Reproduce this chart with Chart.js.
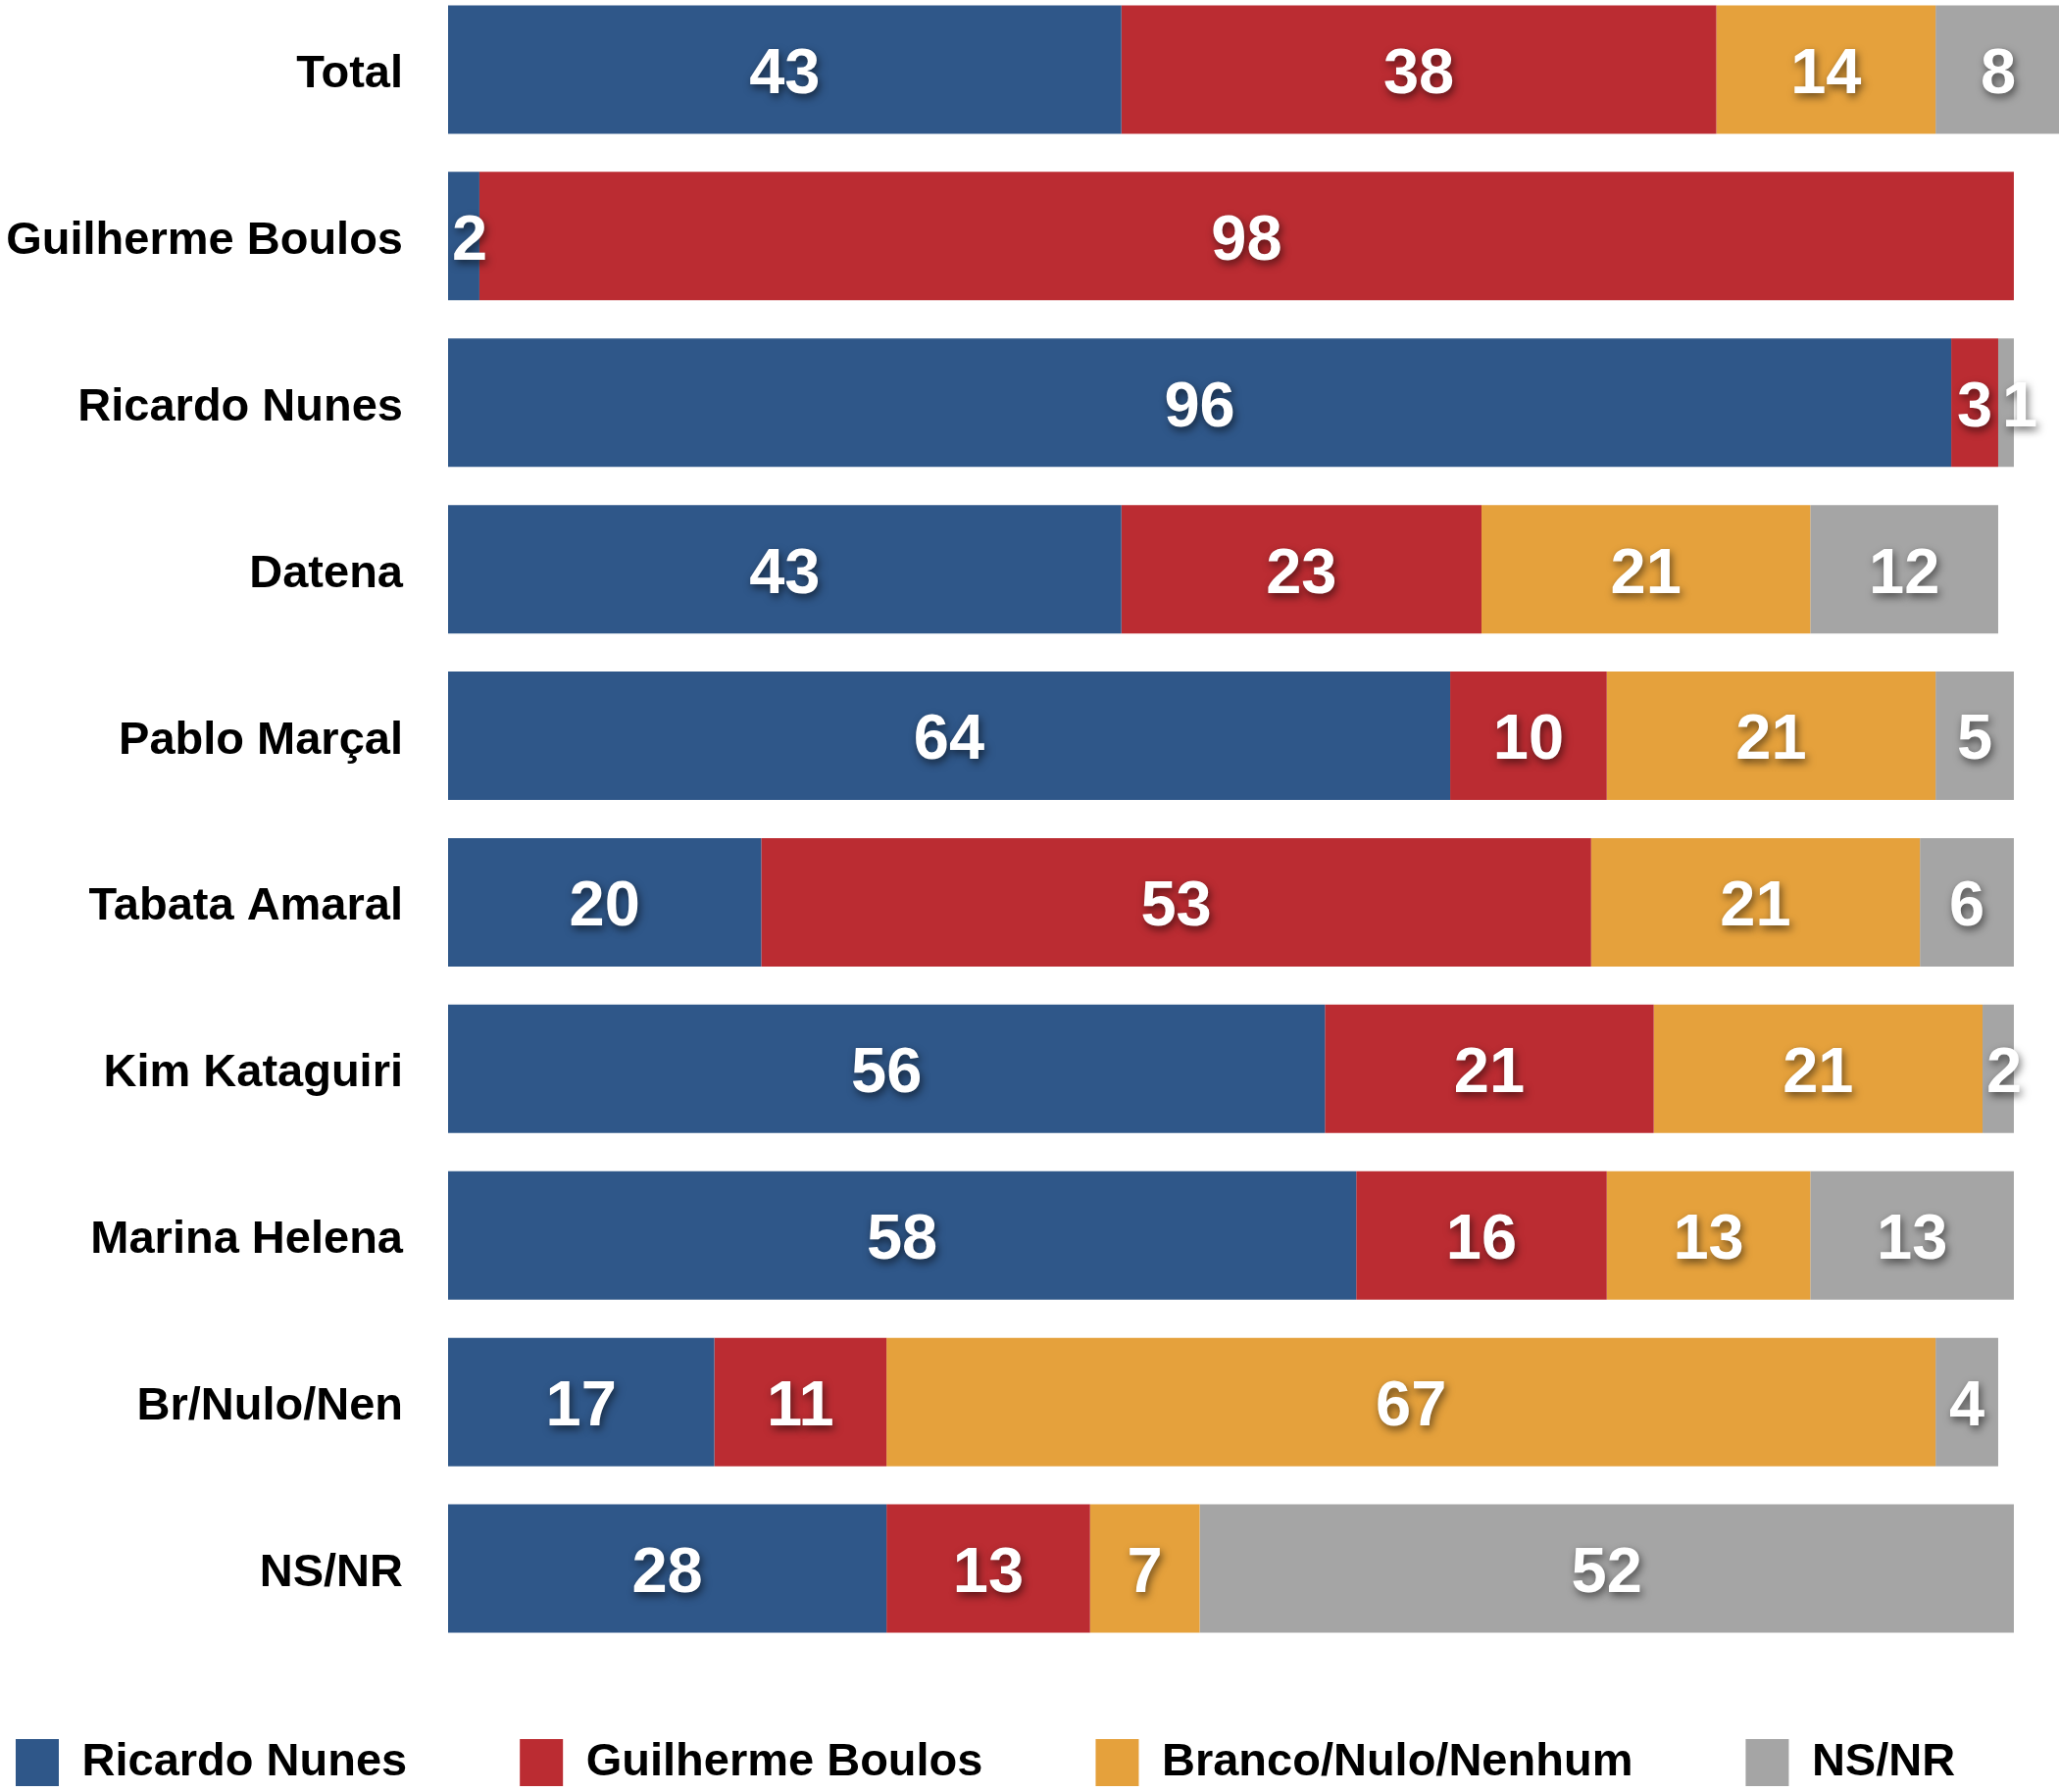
<!DOCTYPE html>
<html><head><meta charset="utf-8">
<script src="https://cdn.jsdelivr.net/npm/chart.js@4/dist/chart.umd.min.js"></script>
<style>
html,body{margin:0;padding:0;background:#fff;overflow:hidden;width:2100px;height:1828px}
#wrap{position:absolute;left:0;top:0;width:2100px;height:1828px;overflow:hidden}
#c{position:absolute;left:-99px;top:-14px}
</style>
</head><body><div id="wrap"><canvas id="c" width="2400" height="1872"></canvas></div>
<script>
const categories = ['Total','Guilherme Boulos','Ricardo Nunes','Datena','Pablo Marçal','Tabata Amaral','Kim Kataguiri','Marina Helena','Br/Nulo/Nen','NS/NR'];
const seriesNames = ['Ricardo Nunes','Guilherme Boulos','Branco/Nulo/Nenhum','NS/NR'];
const nunes  = [43, 2, 96, 43, 64, 20, 56, 58, 17, 28];
const boulos = [38, 98, 3, 23, 10, 53, 21, 16, 11, 13];
const branco = [14, 0, 0, 21, 21, 21, 21, 13, 67, 7];
const nsnr   = [8, 0, 1, 12, 5, 6, 2, 13, 4, 52];
const seriesColors = ['#2F5789','#BB2C32','#E5A13C','#A5A5A5'];

const FONT = '"Liberation Sans", Arial, Helvetica, sans-serif';
const OFFSET_X = 99;      // canvas is shifted left by this many px (see CSS)
const AXIS_RIGHT = 457;   // page x where the bars start

const valueLabels = {
  id: 'valueLabels',
  afterDatasetsDraw(chart) {
    const ctx = chart.ctx;
    ctx.save();
    ctx.font = 'bold 65px ' + FONT;
    ctx.textBaseline = 'middle';
    ctx.fillStyle = '#ffffff';
    ctx.shadowColor = 'rgba(0,0,0,0.55)';
    ctx.shadowBlur = 8;
    ctx.shadowOffsetX = 2;
    ctx.shadowOffsetY = 4;
    chart.data.datasets.forEach((ds, i) => {
      const meta = chart.getDatasetMeta(i);
      meta.data.forEach((el, j) => {
        const v = ds.data[j];
        if (!v) return;
        const txt = String(v);
        const w = ctx.measureText(txt).width;
        const seg = Math.abs(el.x - el.base);
        const y = el.y + 6;
        if (w > seg) {
          ctx.textAlign = 'left';
          ctx.fillText(txt, Math.min(el.x, el.base) + 4, y);
        } else {
          ctx.textAlign = 'center';
          ctx.fillText(txt, (el.x + el.base) / 2, y);
        }
      });
    });
    ctx.restore();
  }
};

const legendShift = {
  id: 'legendShift',
  afterLayout(chart) {
    const l = chart.legend;
    if (l) { l.top -= 26; l.bottom -= 26; }
  }
};

const datasets = [nunes, boulos, branco, nsnr].map((d, i) => ({
  label: seriesNames[i],
  data: d,
  backgroundColor: seriesColors[i],
  borderWidth: 0,
  barPercentage: 0.771,
  categoryPercentage: 1
}));

new Chart(document.getElementById('c'), {
  type: 'bar',
  data: { labels: categories, datasets },
  options: {
    indexAxis: 'y',
    responsive: false,
    devicePixelRatio: 1,
    animation: false,
    layout: { padding: 0 },
    scales: {
      x: { stacked: true, display: false, min: 0, max: 115.47 },
      y: {
        stacked: true,
        grid: { display: false, drawTicks: false },
        border: { display: false },
        ticks: { color: '#000', padding: 46, labelOffset: 5, font: { family: FONT, size: 47, weight: 'bold' } },
        afterFit(s) { s.width = AXIS_RIGHT + OFFSET_X; s.paddingTop = 0; s.paddingBottom = 0; }
      }
    },
    plugins: {
      tooltip: { enabled: false },
      legend: {
        position: 'bottom',
        align: 'start',
        labels: {
          boxWidth: 44, boxHeight: 48, padding: 115, color: '#000',
          font: { family: FONT, size: 47, weight: 'bold' }
        }
      }
    }
  },
  plugins: [valueLabels, legendShift]
});
</script></body></html>
